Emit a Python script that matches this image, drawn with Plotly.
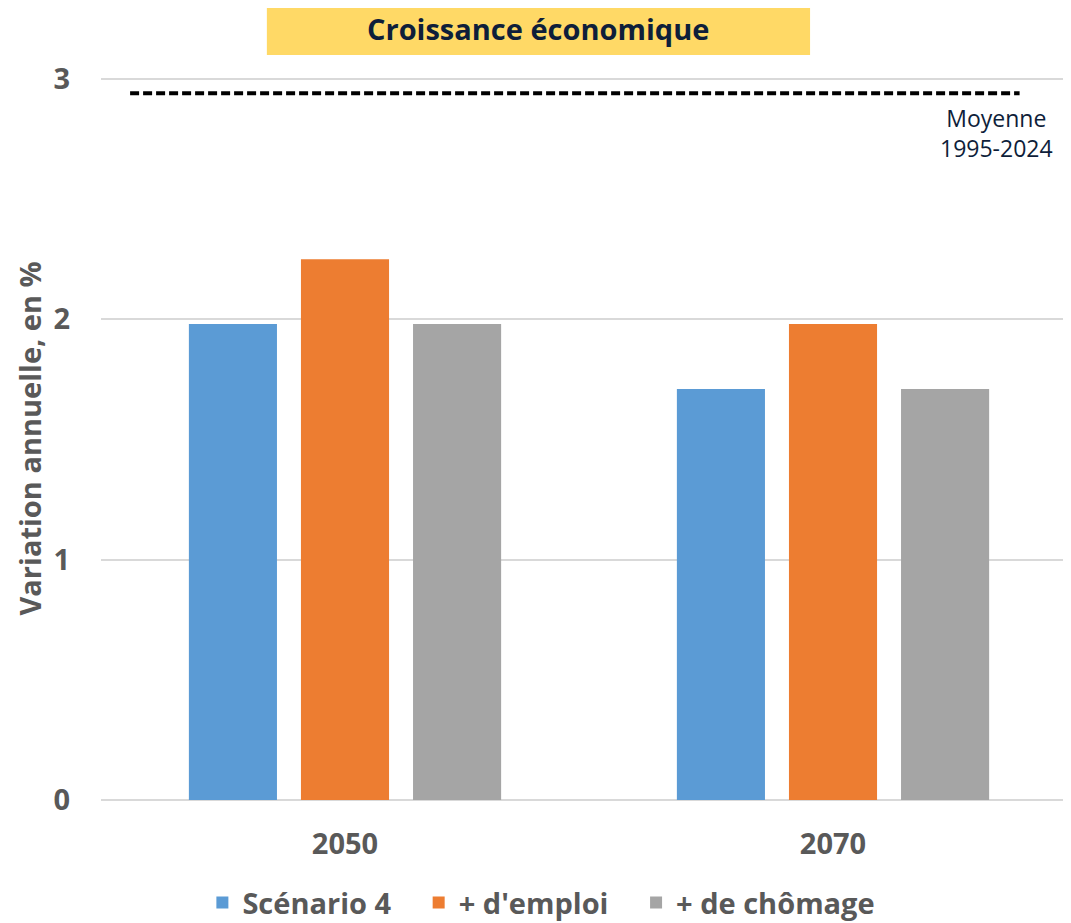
import plotly.graph_objects as go

categories = ["2050", "2070"]
series_names = ["Scénario 4", "+ d'emploi", "+ de chômage"]
scenario4 = [1.98, 1.71]
plus_emploi = [2.25, 1.98]
plus_chomage = [1.98, 1.71]
moyenne_1995_2024 = 2.94
y_ticks = [0, 1, 2, 3]

colors = ["#5B9BD5", "#ED7D31", "#A5A5A5"]
gray_txt = "#595959"
navy = "#0E1E3A"
BOLD = 29
PAD = "\u00a0\u00a0\u00a0"

fig = go.Figure()
for i, (name, vals, col) in enumerate(zip(series_names, [scenario4, plus_emploi, plus_chomage], colors)):
    label = name + (PAD if i < len(series_names) - 1 else "")
    fig.add_trace(go.Bar(x=categories, y=vals, name=label, marker=dict(color=col, line=dict(width=0))))

fig.add_shape(type="line", xref="paper", yref="y", x0=0.03, x1=0.947,
              y0=moyenne_1995_2024, y1=moyenne_1995_2024,
              line=dict(color="black", width=4, dash="9px,4px"))

# title box
fig.add_shape(type="rect", xref="paper", yref="paper", x0=0.171, x1=0.731, y0=1.0304, y1=1.101,
              fillcolor="#FFD966", line=dict(width=0), layer="below")
fig.add_annotation(xref="paper", yref="paper", x=0.4505, y=1.0664, text="<b>Croissance économique</b>",
                   showarrow=False, font=dict(family="Open Sans", size=BOLD, color=navy),
                   xanchor="center", yanchor="middle")
fig.add_annotation(xref="paper", yref="y", x=0.9227, y=2.775,
                   text="Moyenne<br>1995-2024", showarrow=False,
                   font=dict(family="Open Sans", size=23, color=navy),
                   xanchor="center", yanchor="middle", align="center")
fig.add_annotation(xref="paper", yref="paper", x=-0.0732, y=0.5,
                   text="<b>Variation annuelle, en %</b>", textangle=-90, showarrow=False,
                   font=dict(family="Open Sans", size=BOLD, color=gray_txt),
                   xanchor="center", yanchor="middle")

fig.update_layout(
    width=1063, height=923,
    margin=dict(l=93, r=0, t=69, b=131),
    paper_bgcolor="white", plot_bgcolor="white",
    barmode="group", bargap=0.311, bargroupgap=0.214,
    font=dict(family="Open Sans", color=gray_txt),
    showlegend=True,
    legend=dict(orientation="h", x=0.454, xanchor="center", y=-0.142, yanchor="middle",
                font=dict(family="Open Sans", size=BOLD, color=gray_txt, weight="bold"),
                itemwidth=30, tracegroupgap=0),
    xaxis=dict(range=[-0.5, 1.4877], showgrid=False, zeroline=False, showline=False,
               ticks="outside", ticklen=18, tickcolor="rgba(0,0,0,0)",
               tickfont=dict(family="Open Sans", size=BOLD, color=gray_txt, weight="bold")),
    yaxis=dict(range=[0, 3.008], tickvals=y_ticks, showgrid=True, gridcolor="#D9D9D9", gridwidth=2,
               zeroline=True, zerolinecolor="#D9D9D9", zerolinewidth=2, showline=False,
               ticks="outside", ticklen=24, tickcolor="rgba(0,0,0,0)",
               tickfont=dict(family="Open Sans", size=BOLD, color=gray_txt, weight="bold")),
)

fig.write_html("out.html")
